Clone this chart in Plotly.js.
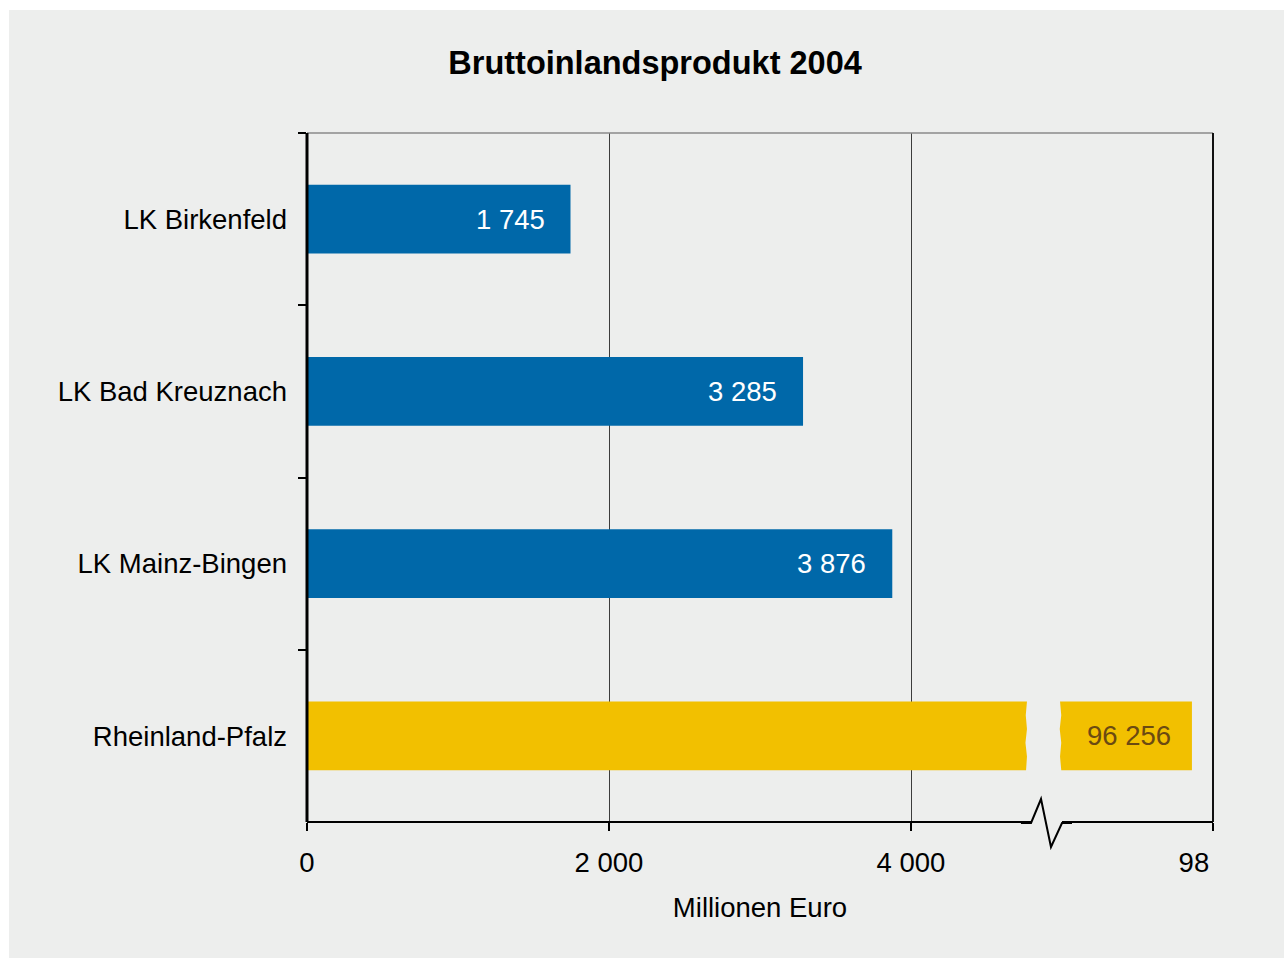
<!DOCTYPE html>
<html>
<head>
<meta charset="utf-8">
<script src="https://cdn.plot.ly/plotly-3.0.1.min.js"></script>
<style>
  html, body { margin: 0; padding: 0; background: #ffffff; }
  #chart { position: absolute; left: 9px; top: 10px; width: 1275px; height: 948px; }
</style>
</head>
<body>
<div id="chart"></div>
<script>
// ---- data ----
const categories = ['LK Birkenfeld', 'LK Bad Kreuznach', 'LK Mainz-Bingen', 'Rheinland-Pfalz'];
const values = [1745, 3285, 3876, 96256];          // Millionen Euro
const barColors = ['#0068a9', '#0068a9', '#0068a9', '#f2c000'];
const labelColors = ['#ffffff', '#ffffff', '#ffffff', '#6b4a12'];
const tickValues = [0, 2000, 4000, 98000];
const tickLabels = ['0', '2 000', '4 000', '98'];
const chartTitle = 'Bruttoinlandsprodukt 2004';
const axisTitle = 'Millionen Euro';

// ---- broken axis mapping ----
const BREAK_AT = 4750;      // display units where the axis is broken
const AXIS_END = 6000;      // display position of last tick
const UPPER_REAL = 98000;   // real value at last tick
const UPPER_SCALE = 0.08;   // compression of the upper segment
function toAxis(v) {
  return v <= BREAK_AT ? v : AXIS_END - (UPPER_REAL - v) * UPPER_SCALE;
}
function fmt(v) { return String(v).replace(/\B(?=(\d{3})+(?!\d))/g, ' '); }

const BG = '#edeeed';
const FONT = 'Liberation Sans, Arial, sans-serif';
const FS = 27.5;

const trace = {
  type: 'bar',
  orientation: 'h',
  y: categories,
  x: values.map(toAxis),
  marker: { color: barColors, line: { width: 0 } },
  hoverinfo: 'skip',
  showlegend: false
};

const annotations = values.map((v, i) => ({
  x: toAxis(v), y: categories[i], xref: 'x', yref: 'y',
  text: fmt(v), showarrow: false, xanchor: 'right', yanchor: 'middle',
  xshift: v > BREAK_AT ? -19 : -24,
  font: { family: FONT, size: FS, color: labelColors[i] }
}));

// last tick label sits left of its tick in the original
const tickText = tickLabels.map((t, i) => i === tickLabels.length - 1 ? t + '&nbsp;&nbsp;&nbsp;&nbsp;&nbsp;' : t);

// plot geometry helpers for decorations (plot area 689 px high)
const PH = 689;
const py = p => -p / PH;   // pixel offset below axis (positive = down) -> paper y

const shapes = [
  { type: 'line', xref: 'x', yref: 'paper', x0: 0, x1: AXIS_END, y0: 1, y1: 1,
    line: { color: '#8a8a8a', width: 1.5 }, layer: 'above' },
  { type: 'line', xref: 'paper', yref: 'paper', x0: 1, x1: 1, y0: 0, y1: 1,
    line: { color: '#111111', width: 2 }, layer: 'above' },
  // y axis line
  { type: 'line', xref: 'paper', yref: 'paper', x0: 0, x1: 0, y0: 0, y1: 1,
    line: { color: '#000000', width: 3 }, layer: 'above' },
  { type: 'line', xref: 'x', yref: 'paper', x0: 0, x1: 4795, y0: 0, y1: 0,
    line: { color: '#000000', width: 2 }, layer: 'above' },
  { type: 'line', xref: 'x', yref: 'paper', x0: 5000, x1: AXIS_END, y0: 0, y1: 0,
    line: { color: '#000000', width: 2 }, layer: 'above' },
  { type: 'path', xref: 'x', yref: 'paper', layer: 'above',
    path: `M 4728,${py(1)} L 4795,${py(1)} L 4861,${py(-23)} L 4927,${py(25)} L 5000,${py(1)} L 5066,${py(1)}`,
    line: { color: '#000000', width: 2 } },
  { type: 'path', xref: 'x', yref: 'y', layer: 'above',
    path: 'M 4768,2.75 L 4768,2.80 L 4760,2.88 L 4768,2.96 L 4758,3.04 L 4768,3.12 L 4762,3.20 L 4762,3.25 ' +
          'L 4995,3.25 L 4995,3.20 L 4987,3.12 L 4995,3.04 L 4985,2.96 L 4995,2.88 L 4987,2.80 L 4987,2.75 Z',
    fillcolor: BG, line: { width: 0 } }
];

const layout = {
  width: 1275, height: 948,
  paper_bgcolor: BG, plot_bgcolor: BG,
  margin: { l: 298, r: 71, t: 123, b: 136 },
  font: { family: FONT, size: FS, color: '#000000' },
  title: {
    text: '<b>' + chartTitle + '</b>',
    font: { family: FONT, size: 32.5, color: '#000000' },
    x: 0.5067, xref: 'container', xanchor: 'center',
    y: 0.944, yref: 'container', yanchor: 'middle'
  },
  bargap: 0.6,
  xaxis: {
    range: [0, AXIS_END],
    tickmode: 'array',
    tickvals: tickValues.map(toAxis),
    ticktext: tickText,
    ticks: 'outside', ticklen: 8, tickwidth: 2, tickcolor: '#000000',
    showgrid: true, gridcolor: '#3c3c3c', gridwidth: 1,
    zeroline: false, showline: false,
    tickfont: { family: FONT, size: FS, color: '#000000' },
    ticklabelstandoff: 8,
    title: { text: axisTitle, standoff: 20, font: { family: FONT, size: FS, color: '#000000' } },
    fixedrange: true
  },
  yaxis: {
    type: 'category',
    autorange: 'reversed',
    tickson: 'boundaries',
    ticks: 'outside', ticklen: 8, tickwidth: 2, tickcolor: '#000000',
    showline: false,
    showgrid: false, zeroline: false,
    tickfont: { family: FONT, size: FS, color: '#000000' },
    ticklabelstandoff: 19,
    fixedrange: true
  },
  shapes: shapes,
  annotations: annotations
};

Plotly.newPlot('chart', [trace], layout, { displayModeBar: false, staticPlot: true });
</script>
</body>
</html>
